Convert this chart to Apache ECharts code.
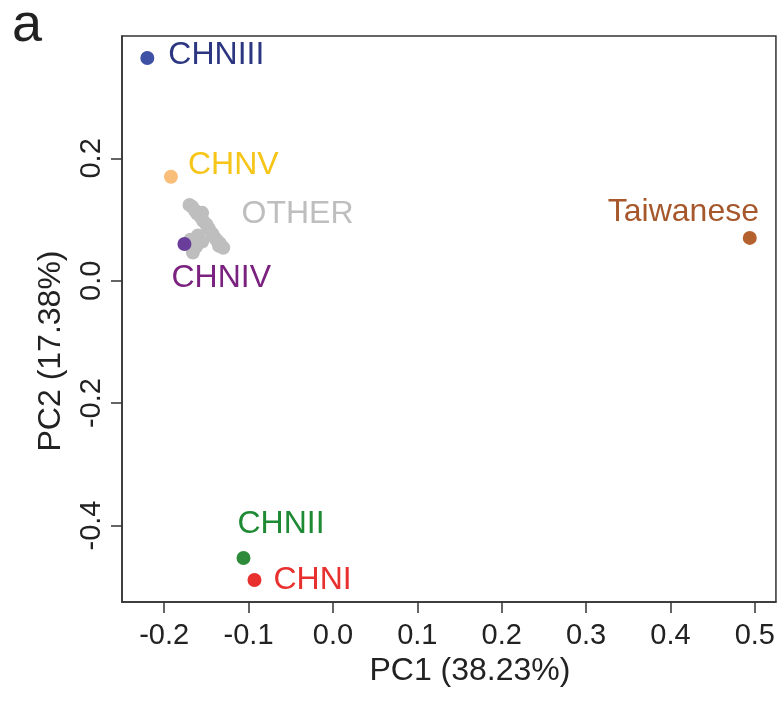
<!DOCTYPE html>
<html>
<head>
<meta charset="utf-8">
<script src="https://cdn.jsdelivr.net/npm/echarts@6/dist/echarts.min.js"></script>
<style>
html, body { margin: 0; padding: 0; background: #fff; }
#pca { width: 778px; height: 707px; }
</style>
</head>
<body>
<div id="pca"></div>
<script>
// PCA 数据 (PC1, PC2)
var groupNames = ['CHNIII', 'CHNV', 'CHNIV', 'Taiwanese', 'CHNII', 'CHNI'];
var groupPC1 = [-0.220, -0.192, -0.176, 0.494, -0.106, -0.093];
var groupPC2 = [0.364, 0.170, 0.060, 0.070, -0.453, -0.489];
var dotColors = ['#3F51A5', '#F9BE7A', '#6A3D9A', '#B5612E', '#2E8B3A', '#E8302E'];
var textColors = ['#2B3580', '#F5C518', '#7B2280', '#A6582C', '#1E8A34', '#E8302E'];

// OTHER 样本
var otherPC1 = [-0.170, -0.167, -0.163, -0.161, -0.157, -0.155, -0.154, -0.150, -0.147, -0.143,
	-0.140, -0.137, -0.134, -0.130, -0.135, -0.155, -0.162, -0.166, -0.160, -0.169];
var otherPC2 = [0.124, 0.121, 0.114, 0.110, 0.105, 0.111, 0.098, 0.092, 0.085, 0.077,
	0.070, 0.065, 0.061, 0.054, 0.057, 0.064, 0.056, 0.046, 0.074, 0.067];

var xTicks = [-0.2, -0.1, 0.0, 0.1, 0.2, 0.3, 0.4, 0.5];
var yTicks = [-0.4, -0.2, 0.0, 0.2];

// 标签偏移 (像素)
var labelOffsets = [[21, -3], [17, -12], [-13, 34], [-142, -26], [-6, -34], [19, 0]];

var font = 'Liberation Sans, Arial, sans-serif';
var chart = echarts.init(document.getElementById('pca'));

var otherData = [];
for (let i = 0; i < otherPC1.length; i++) {
	otherData.push([otherPC1[i], otherPC2[i]]);
}

var series = [{
	name: 'OTHER',
	type: 'scatter',
	symbolSize: 14,
	itemStyle: { color: '#BEBEBE', opacity: 1 },
	data: otherData.map(function (d, i) {
		if (i === 0) {
			return {
				value: d,
				label: {
					show: true,
					formatter: 'OTHER',
					position: 'inside',
					align: 'left',
					verticalAlign: 'middle',
					offset: [52, 9],
					color: '#BEBEBE',
					fontSize: 32,
					fontFamily: font
				}
			};
		}
		return d;
	})
}];

for (let i = 0; i < groupNames.length; i++) {
	series.push({
		name: groupNames[i],
		type: 'scatter',
		symbolSize: 14,
		itemStyle: { color: dotColors[i], opacity: 1 },
		label: {
			show: true,
			formatter: groupNames[i],
			position: 'inside',
			align: 'left',
			verticalAlign: 'middle',
			offset: labelOffsets[i],
			color: textColors[i],
			fontSize: 32,
			fontFamily: font
		},
		data: [[groupPC1[i], groupPC2[i]]]
	});
}

var option = {
	animation: false,
	title: {
		text: 'a',
		left: 7,
		top: -6,
		textStyle: { fontSize: 54, fontWeight: 'normal', color: '#222', fontFamily: font }
	},
	grid: {
		left: 122,
		right: 2,
		top: 36,
		bottom: 105,
		show: true,
		borderColor: '#333',
		borderWidth: 1.5
	},
	xAxis: {
		type: 'value',
		min: -0.25,
		max: 0.525,
		name: 'PC1 (38.23%)',
		nameLocation: 'middle',
		nameGap: 37,
		nameTextStyle: { fontSize: 32, color: '#222', fontFamily: font, padding: [0, 0, 0, 42] },
		axisLine: { show: true, onZero: false, lineStyle: { color: '#333', width: 1.5 } },
		axisTick: { show: true, inside: false, length: 11, customValues: xTicks, lineStyle: { color: '#333', width: 1.5 } },
		axisLabel: {
			customValues: xTicks,
			margin: 19,
			fontSize: 29,
			color: '#222',
			fontFamily: font,
			formatter: function (v) { return v.toFixed(1); }
		},
		splitLine: { show: false }
	},
	yAxis: {
		type: 'value',
		min: -0.525,
		max: 0.4,
		name: 'PC2 (17.38%)',
		nameLocation: 'middle',
		nameGap: 55,
		nameTextStyle: { fontSize: 32, color: '#222', fontFamily: font, padding: [0, 64, 0, 0] },
		axisLine: { show: true, onZero: false, lineStyle: { color: '#333', width: 1.5 } },
		axisTick: { show: true, inside: false, length: 11, customValues: yTicks, lineStyle: { color: '#333', width: 1.5 } },
		axisLabel: {
			customValues: yTicks,
			rotate: 90,
			margin: 16,
			fontSize: 29,
			color: '#222',
			fontFamily: font,
			formatter: function (v) { return v.toFixed(1); }
		},
		splitLine: { show: false }
	},
	series: series
};
chart.setOption(option);
</script>
</body>
</html>
